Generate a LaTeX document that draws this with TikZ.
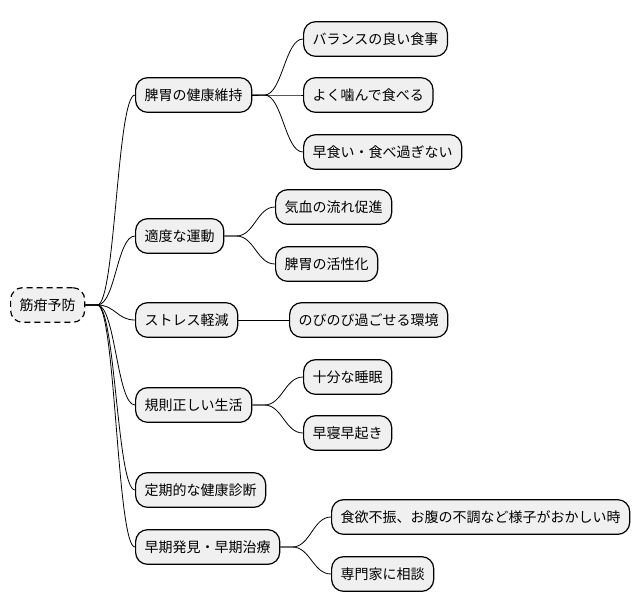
\documentclass[tikz,border=0pt]{standalone}
\usepackage{fontspec}
\setmainfont{Noto Sans CJK JP}
\tikzset{
  topic/.style={draw, line width=0.9pt, rounded corners=9pt, fill=gray!12,
    minimum height=26pt, inner xsep=6.8pt, anchor=west, font=\fontsize{10.5}{12}\selectfont},
  rootbox/.style={topic, dashed, dash pattern=on 4.5pt off 3pt},
  branch/.style={line width=0.6pt},
}
\newcommand{\link}[2]{\draw[branch] (#1.east) -- ++(12,0) .. controls +(18,0) and +(-18,0) .. (#2.west);}
\begin{document}
\begin{tikzpicture}[x=0.75pt,y=-0.75pt]
\useasboundingbox (0,0) rectangle (642,612);
% root
\node[rootbox] (root) at (10,305) {筋疳予防};
% main branches
\node[topic] (spleen) at (135,95) {脾胃の健康維持};
\node[topic] (exercise) at (135,236) {適度な運動};
\node[topic] (stress) at (135,320) {ストレス軽減};
\node[topic] (rhythm) at (135,405) {規則正しい生活};
\node[topic] (checkup) at (135,490) {定期的な健康診断};
\node[topic] (early) at (135,547) {早期発見・早期治療};
% leaves
\node[topic] (balance) at (303,39) {バランスの良い食事};
\node[topic] (chew) at (303,95) {よく噛んで食べる};
\node[topic] (overeat) at (303,152) {早食い・食べ過ぎない};
\node[topic] (qiblood) at (275,207) {気血の流れ促進};
\node[topic] (activate) at (275,264) {脾胃の活性化};
\node[topic] (relax) at (289,320) {のびのび過ごせる環境};
\node[topic] (sleep) at (303,377) {十分な睡眠};
\node[topic] (earlybed) at (303,433) {早寝早起き};
\node[topic] (symptom) at (331,517) {食欲不振、お腹の不調など様子がおかしい時};
\node[topic] (expert) at (331,574) {専門家に相談};
% connectors
\link{root}{spleen}
\link{root}{exercise}
\link{root}{stress}
\link{root}{rhythm}
\link{root}{checkup}
\link{root}{early}
\link{spleen}{balance}
\link{spleen}{chew}
\link{spleen}{overeat}
\link{exercise}{qiblood}
\link{exercise}{activate}
\draw[branch] (stress.east) -- (relax.west);
\link{rhythm}{sleep}
\link{rhythm}{earlybed}
\link{early}{symptom}
\link{early}{expert}
\end{tikzpicture}
\end{document}
